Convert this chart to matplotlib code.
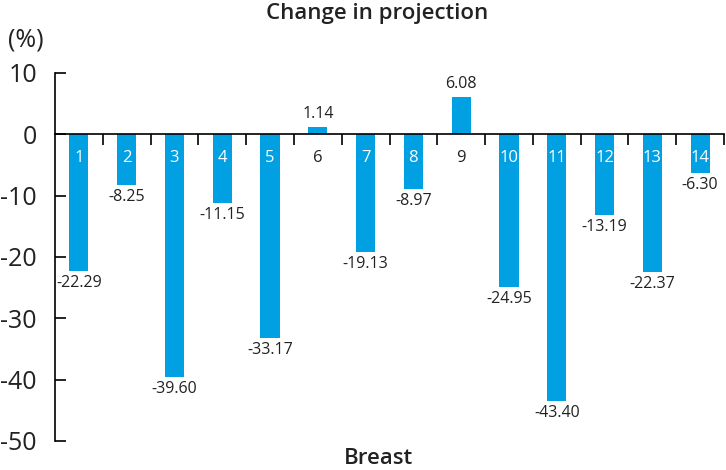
import matplotlib
matplotlib.use("Agg")
import matplotlib.pyplot as plt

categories = [str(i) for i in range(1, 15)]
values = [-22.29, -8.25, -39.60, -11.15, -33.17, 1.14, -19.13, -8.97, 6.08,
          -24.95, -43.40, -13.19, -22.37, -6.30]
yticks = [10, 0, -10, -20, -30, -40, -50]

plt.rcParams['font.family'] = ['Open Sans', 'DejaVu Sans']
plt.rcParams['axes.unicode_minus'] = False

fig = plt.figure(figsize=(7.26, 4.70), dpi=100)
ax = fig.add_axes([55/726, 1-441/470, (724-55)/726, (441-73)/470])

x = list(range(1, len(values)+1))
color = '#00A0E3'
ax.bar(x, values, width=0.4, color=color, zorder=2)

ax.set_xlim(0.5, 14.5)
ax.set_ylim(-50, 10)
ax.set_yticks(yticks)
ax.tick_params(axis='y', direction='in', length=8, width=1.2, labelsize=18, pad=13,
               labelcolor='#222222')
for lab in ax.get_yticklabels():
    lab.set_fontweight('medium')

ax.spines['top'].set_visible(False)
ax.spines['right'].set_visible(False)
ax.spines['left'].set_linewidth(1.2)
ax.spines['bottom'].set_position(('data', 0))
ax.spines['bottom'].set_linewidth(1.2)
ax.spines['bottom'].set_zorder(3)
ax.set_xticks([i + 0.5 for i in range(1, len(values)+1)])
ax.set_xticklabels([])
ax.tick_params(axis='x', direction='out', length=8, width=1.2)

for xi, v, c in zip(x, values, categories):
    if v < 0:
        ax.annotate(f"{v:.2f}", (xi, v), xytext=(0, -4), textcoords='offset pixels',
                    ha='center', va='top', fontsize=11.5, fontweight='medium', color='#222222')
        ax.annotate(c, (xi, 0), xytext=(0, -24), textcoords='offset pixels',
                    ha='center', va='center', fontsize=12, color='white', fontweight='medium')
    else:
        ax.annotate(f"{v:.2f}", (xi, v), xytext=(0, 5), textcoords='offset pixels',
                    ha='center', va='bottom', fontsize=11.5, fontweight='medium', color='#222222')
        ax.annotate(c, (xi, 0), xytext=(0, -24), textcoords='offset pixels',
                    ha='center', va='center', fontsize=12, color='#222222', fontweight='medium')

fig.text(377/726, 1-13/470, "Change in projection", ha='center', va='center',
         fontsize=16, fontweight='semibold', color='#222222')
fig.text(378/726, 1-459/470, "Breast", ha='center', va='center',
         fontsize=16, fontweight='semibold', color='#222222')
fig.text(26/726, 1-40/470, "(%)", ha='center', va='center', fontsize=18,
         fontweight='medium', color='#222222')

fig.savefig("out.png", dpi=100)
